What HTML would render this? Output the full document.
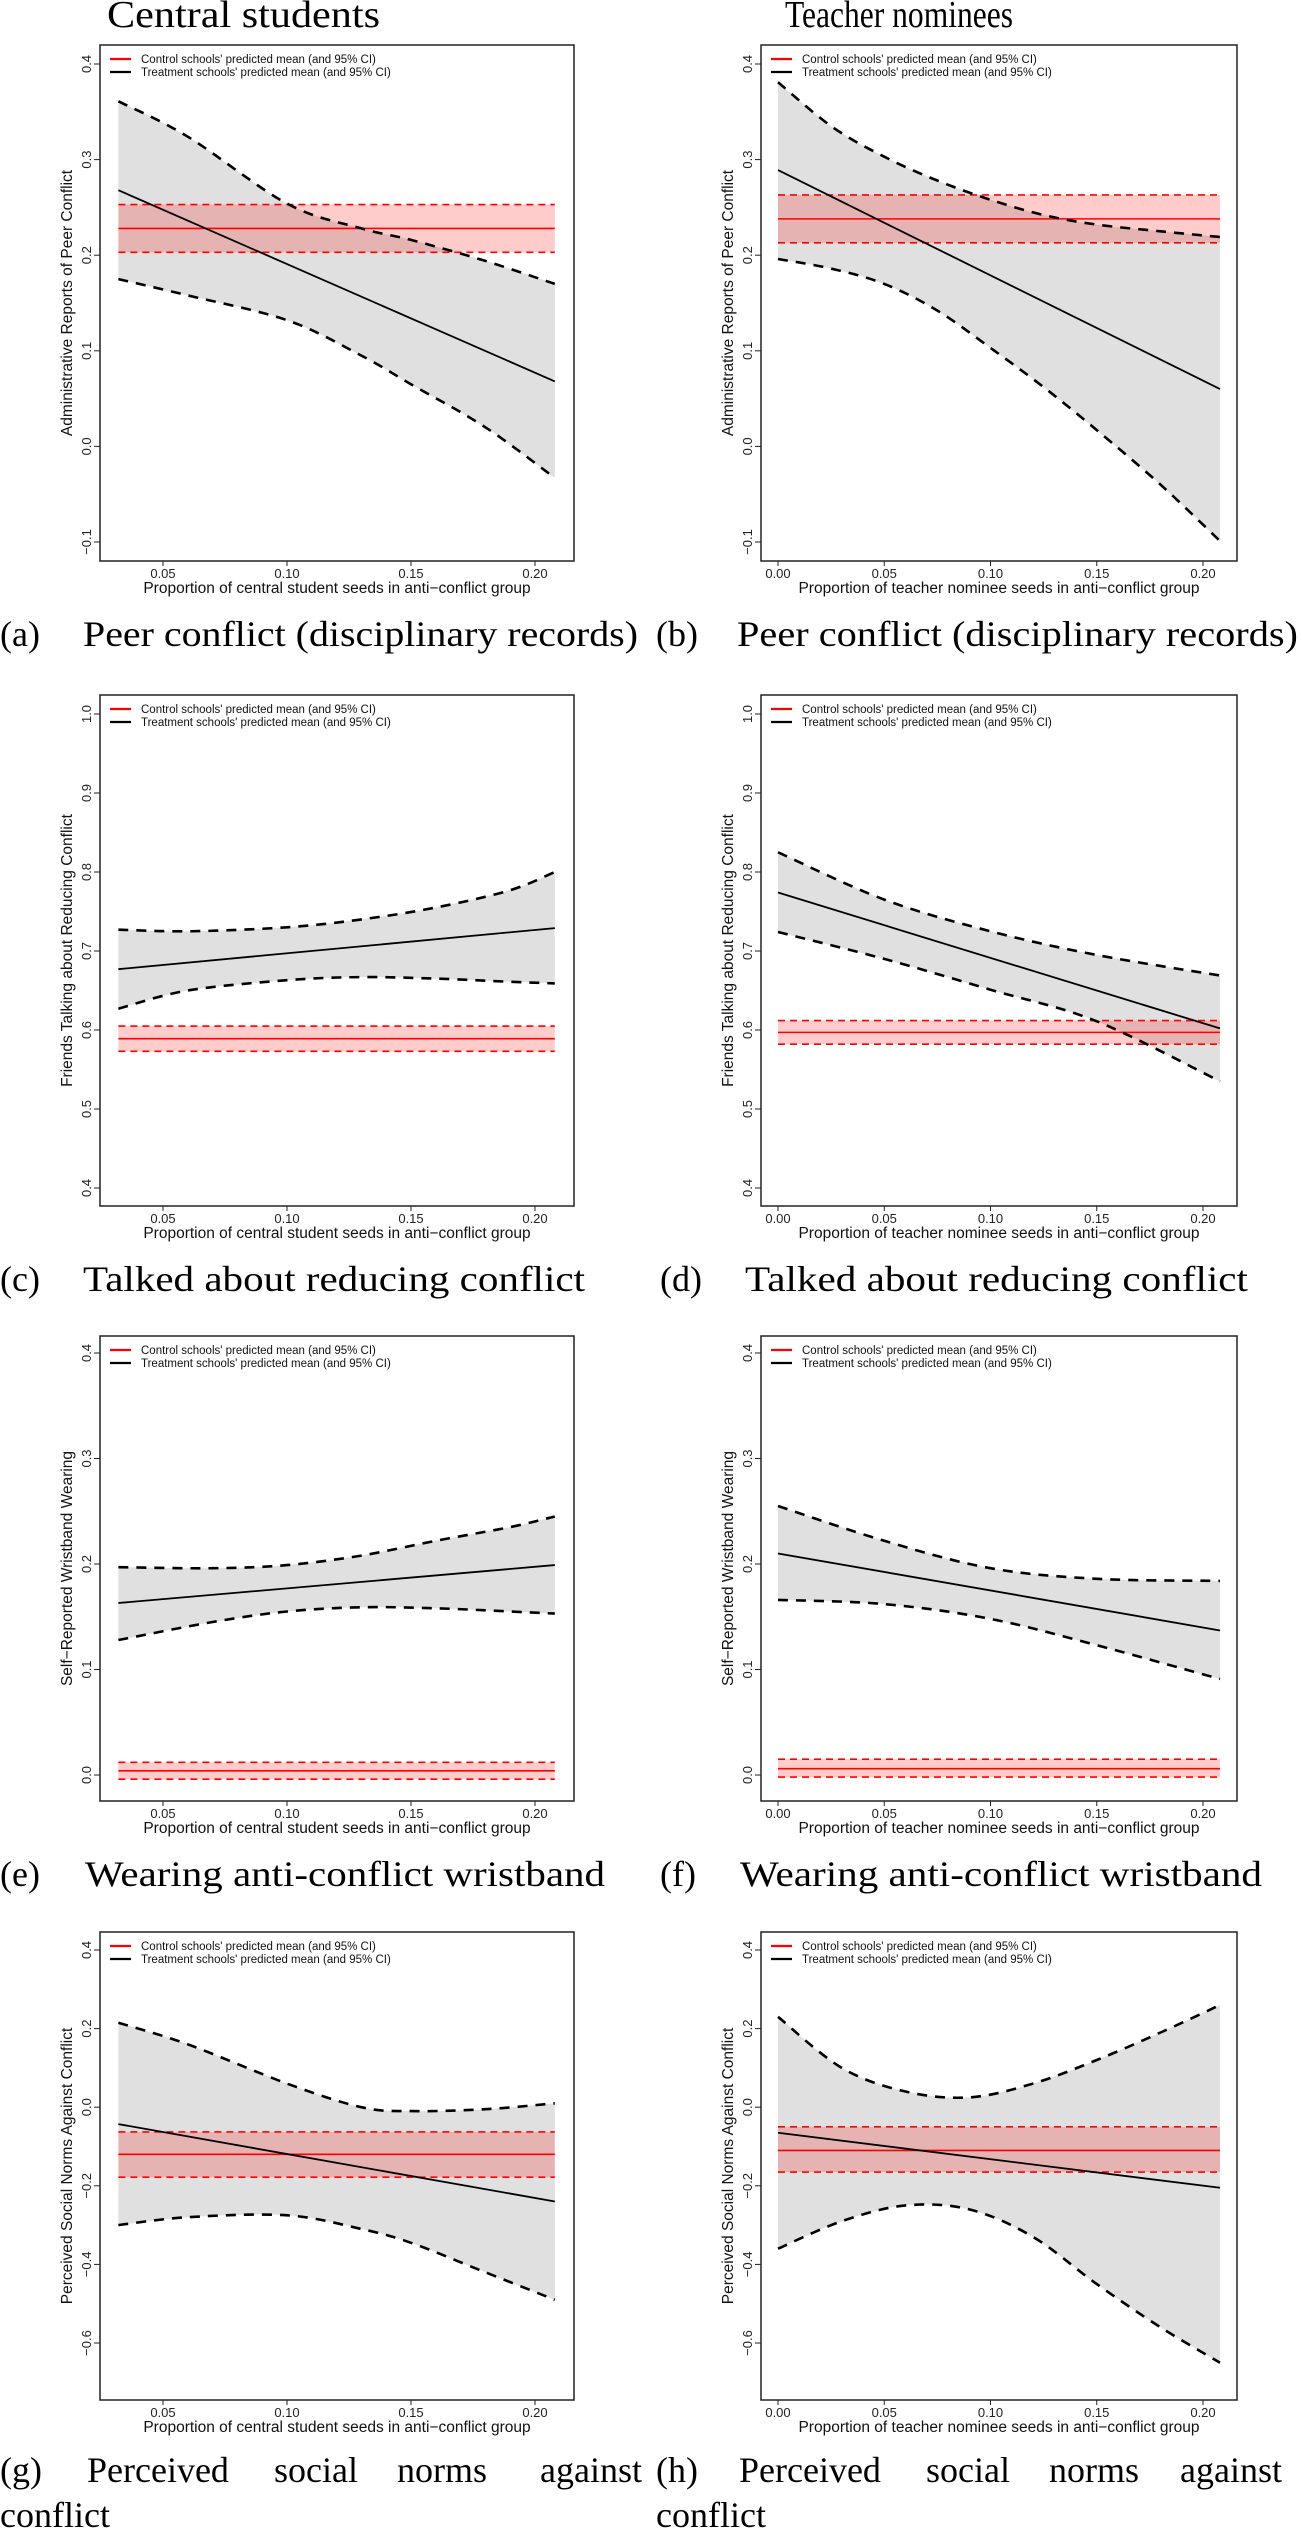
<!DOCTYPE html>
<html><head><meta charset="utf-8">
<style>
html,body{margin:0;padding:0;background:#fff;}
svg{display:block;}
text{font-family:"Liberation Sans",Arial,sans-serif;}
.serif{font-family:"Liberation Serif","DejaVu Serif",serif;}
</style></head>
<body>
<svg id="fig" width="1302" height="2529" viewBox="0 0 1302 2529" xmlns="http://www.w3.org/2000/svg">
<text class="serif" x="107" y="27" font-size="38" textLength="273" lengthAdjust="spacingAndGlyphs">Central students</text>
<text class="serif" x="785" y="27" font-size="38" textLength="228" lengthAdjust="spacingAndGlyphs">Teacher nominees</text>

<text class="serif" x="0" y="646" font-size="36">(a)</text>
<text class="serif" x="83" y="646" font-size="36" textLength="555" lengthAdjust="spacingAndGlyphs">Peer conflict (disciplinary records)</text>
<text class="serif" x="656" y="646" font-size="36">(b)</text>
<text class="serif" x="737" y="646" font-size="36" textLength="561" lengthAdjust="spacingAndGlyphs">Peer conflict (disciplinary records)</text>

<text class="serif" x="0" y="1291" font-size="36">(c)</text>
<text class="serif" x="83" y="1291" font-size="36" textLength="502" lengthAdjust="spacingAndGlyphs">Talked about reducing conflict</text>
<text class="serif" x="660" y="1291" font-size="36">(d)</text>
<text class="serif" x="745" y="1291" font-size="36" textLength="503" lengthAdjust="spacingAndGlyphs">Talked about reducing conflict</text>

<text class="serif" x="0" y="1886" font-size="36">(e)</text>
<text class="serif" x="85" y="1886" font-size="36" textLength="520" lengthAdjust="spacingAndGlyphs">Wearing anti-conflict wristband</text>
<text class="serif" x="660" y="1886" font-size="36">(f)</text>
<text class="serif" x="740" y="1886" font-size="36" textLength="522" lengthAdjust="spacingAndGlyphs">Wearing anti-conflict wristband</text>

<text class="serif" x="0" y="2482" font-size="36">(g)</text>
<text class="serif" y="2482" font-size="36"><tspan x="87">Perceived</tspan><tspan x="274">social</tspan><tspan x="397">norms</tspan><tspan x="540">against</tspan></text>
<text class="serif" x="0" y="2527" font-size="36">conflict</text>
<text class="serif" x="656" y="2482" font-size="36">(h)</text>
<text class="serif" y="2482" font-size="36"><tspan x="739">Perceived</tspan><tspan x="926">social</tspan><tspan x="1049">norms</tspan><tspan x="1180">against</tspan></text>
<text class="serif" x="656" y="2527" font-size="36">conflict</text>
</svg>
<script>
// ---- data ----
const aX = [0.032, 0.06, 0.10, 0.13, 0.15, 0.18, 0.208];
const aMean = [0.268, 0.068];
const aUpper = [0.361, 0.324, 0.254, 0.228, 0.216, 0.194, 0.170];
const aLower = [0.175, 0.158, 0.132, 0.095, 0.065, 0.020, -0.033];
const aCtrl = [0.228, 0.203, 0.253];

const bX = [0.0, 0.025, 0.05, 0.075, 0.10, 0.125, 0.15, 0.18, 0.208];
const bMean = [0.289, 0.060];
const bUpper = [0.381, 0.335, 0.303, 0.278, 0.258, 0.242, 0.232, 0.225, 0.219];
const bLower = [0.196, 0.186, 0.170, 0.142, 0.103, 0.062, 0.017, -0.040, -0.099];
const bCtrl = [0.238, 0.213, 0.263];

const cX = [0.032, 0.06, 0.10, 0.13, 0.16, 0.19, 0.208];
const cMean = [0.677, 0.729];
const cUpper = [0.727, 0.725, 0.730, 0.740, 0.755, 0.777, 0.800];
const cLower = [0.627, 0.650, 0.663, 0.667, 0.665, 0.661, 0.659];
const cCtrl = [0.589, 0.573, 0.605];

const dX = [0.0, 0.05, 0.10, 0.15, 0.208];
const dMean = [0.774, 0.602];
const dUpper = [0.825, 0.765, 0.725, 0.695, 0.669];
const dLower = [0.724, 0.690, 0.651, 0.611, 0.535];
const dCtrl = [0.597, 0.582, 0.612];

const eX = [0.032, 0.07, 0.10, 0.13, 0.16, 0.19, 0.208];
const eMean = [0.163, 0.199];
const eUpper = [0.197, 0.196, 0.199, 0.208, 0.222, 0.235, 0.245];
const eLower = [0.128, 0.145, 0.155, 0.159, 0.158, 0.155, 0.153];
const eCtrl = [0.004, -0.004, 0.012];

const fX = [0.0, 0.05, 0.10, 0.15, 0.208];
const fMean = [0.210, 0.137];
const fUpper = [0.255, 0.222, 0.196, 0.186, 0.184];
const fLower = [0.166, 0.162, 0.148, 0.123, 0.091];
const fCtrl = [0.006, -0.002, 0.015];

const gX = [0.032, 0.06, 0.10, 0.13, 0.15, 0.18, 0.208];
const gMean = [-0.043, -0.240];
const gUpper = [0.215, 0.160, 0.060, 0.000, -0.010, -0.005, 0.010];
const gLower = [-0.300, -0.280, -0.275, -0.310, -0.345, -0.420, -0.490];
const gCtrl = [-0.120, -0.178, -0.063];

const hX = [0.0, 0.03, 0.06, 0.09, 0.12, 0.15, 0.18, 0.208];
const hMean = [-0.065, -0.205];
const hUpper = [0.230, 0.100, 0.040, 0.025, 0.060, 0.120, 0.190, 0.260];
const hLower = [-0.360, -0.290, -0.250, -0.260, -0.330, -0.450, -0.560, -0.650];
const hCtrl = [-0.110, -0.165, -0.050];

const leftTicks = [0.05, 0.10, 0.15, 0.20];
const rightTicks = [0.00, 0.05, 0.10, 0.15, 0.20];
const row1Ticks = [-0.1, 0.0, 0.1, 0.2, 0.3, 0.4];
const row2Ticks = [0.4, 0.5, 0.6, 0.7, 0.8, 0.9, 1.0];
const row3Ticks = [0.0, 0.1, 0.2, 0.3, 0.4];
const row4Ticks = [-0.6, -0.4, -0.2, 0.0, 0.2, 0.4];

// ---- layout ----
const NS = "http://www.w3.org/2000/svg";
const svg = document.getElementById('fig');
function mk(tag, attrs, parent){
  const e = document.createElementNS(NS, tag);
  for (const k in attrs) e.setAttribute(k, attrs[k]);
  (parent||svg).appendChild(e);
  return e;
}
function smooth(P){
  let d = 'M' + P[0][0].toFixed(1) + ',' + P[0][1].toFixed(1);
  for (let i=0;i<P.length-1;i++){
    const p0 = P[Math.max(0,i-1)], p1 = P[i], p2 = P[i+1], p3 = P[Math.min(P.length-1,i+2)];
    const c1x = p1[0] + (p2[0]-p0[0])/6, c1y = p1[1] + (p2[1]-p0[1])/6;
    const c2x = p2[0] - (p3[0]-p1[0])/6, c2y = p2[1] - (p3[1]-p1[1])/6;
    d += ' C' + c1x.toFixed(1)+','+c1y.toFixed(1)+' '+c2x.toFixed(1)+','+c2y.toFixed(1)+' '+p2[0].toFixed(1)+','+p2[1].toFixed(1);
  }
  return d;
}
const cols = {
  L: {x0:100, x1:574, sx:v=>163+(v-0.05)*2480, ticks:leftTicks, xt:"Proportion of central student seeds in anti\u2212conflict group"},
  R: {x0:761, x1:1237, sx:v=>778+v*2125, ticks:rightTicks, xt:"Proportion of teacher nominee seeds in anti\u2212conflict group"}
};
const rows = [
  {y0:45, y1:561, ref:0.4, refY:64, k:956, ticks:row1Ticks, yt:"Administrative Reports of Peer Conflict"},
  {y0:695, y1:1206, ref:1.0, refY:714, k:790, ticks:row2Ticks, yt:"Friends Talking about Reducing Conflict"},
  {y0:1336, y1:1801, ref:0.4, refY:1353, k:1055, ticks:row3Ticks, yt:"Self\u2212Reported Wristband Wearing"},
  {y0:1932, y1:2400, ref:0.4, refY:1950, k:393, ticks:row4Ticks, yt:"Perceived Social Norms Against Conflict"}
];
const panels = [
  {id:'a', c:'L', r:0, X:aX, M:aMean, U:aUpper, Lo:aLower, C:aCtrl},
  {id:'b', c:'R', r:0, X:bX, M:bMean, U:bUpper, Lo:bLower, C:bCtrl},
  {id:'c', c:'L', r:1, X:cX, M:cMean, U:cUpper, Lo:cLower, C:cCtrl},
  {id:'d', c:'R', r:1, X:dX, M:dMean, U:dUpper, Lo:dLower, C:dCtrl},
  {id:'e', c:'L', r:2, X:eX, M:eMean, U:eUpper, Lo:eLower, C:eCtrl},
  {id:'f', c:'R', r:2, X:fX, M:fMean, U:fUpper, Lo:fLower, C:fCtrl},
  {id:'g', c:'L', r:3, X:gX, M:gMean, U:gUpper, Lo:gLower, C:gCtrl},
  {id:'h', c:'R', r:3, X:hX, M:hMean, U:hUpper, Lo:hLower, C:hCtrl}
];

panels.forEach(p => {
  const col = cols[p.c], row = rows[p.r];
  const sx = col.sx;
  const sy = v => row.refY + (row.ref - v) * row.k;
  const g = mk('g', {});
  
  

  const X = p.X, xs0 = X[0], xs1 = X[X.length-1];
  const UP = X.map((x,i)=>[sx(x), sy(p.U[i])]);
  const LP = X.map((x,i)=>[sx(x), sy(p.Lo[i])]);
  const LPr = LP.slice().reverse();
  const bandD = smooth(UP) + ' L' + LPr[0][0].toFixed(1)+','+LPr[0][1].toFixed(1) + ' ' + smooth(LPr).replace(/^M[^ C]+/, '') + ' Z';
  const band = mk('path', {d:bandD, fill:'#e0e0e0', stroke:'none'}, g);
  
  

  const cLo = Math.min(p.C[1], p.C[2]), cHi = Math.max(p.C[1], p.C[2]);
  const rb = mk('rect', {x:sx(xs0), y:sy(cHi), width:sx(xs1)-sx(xs0), height:sy(cLo)-sy(cHi), fill:'rgba(255,0,0,0.2)'}, g);
  
  
  [p.C[1], p.C[2]].forEach(v => {
    const l = mk('line', {x1:sx(xs0), x2:sx(xs1), y1:sy(v), y2:sy(v), stroke:'#ff0000', 'stroke-width':1.6, 'stroke-dasharray':'7,5'}, g);
    
    
  });
  const cm = mk('line', {x1:sx(xs0), x2:sx(xs1), y1:sy(p.C[0]), y2:sy(p.C[0]), stroke:'#ff0000', 'stroke-width':1.6}, g);
  
  

  [UP, LP].forEach((P, j) => {
    const pl = mk('path', {d:smooth(P), fill:'none', stroke:'#000', 'stroke-width':2.6, 'stroke-dasharray':'10,8'}, g);
    
    
  });
  const tm = mk('line', {x1:sx(xs0), x2:sx(xs1), y1:sy(p.M[0]), y2:sy(p.M[1]), stroke:'#000', 'stroke-width':1.8}, g);
  
  

  const box = mk('rect', {x:col.x0, y:row.y0, width:col.x1-col.x0, height:row.y1-row.y0, fill:'none', stroke:'#222', 'stroke-width':1.5}, g);
  
  

  row.ticks.forEach(v => {
    const y = sy(v);
    const t = mk('line', {x1:col.x0-6, x2:col.x0, y1:y, y2:y, stroke:'#222', 'stroke-width':1}, g);
    
    
    const lab = mk('text', {x:0, y:0, 'font-size':13, 'text-anchor':'middle', fill:'#222', transform:'translate('+(col.x0-9)+','+y+') rotate(-90)'}, g);
    lab.textContent = (v<0?'\u2212':'') + Math.abs(v).toFixed(1);
    
    
  });
  const yt = mk('text', {x:0, y:0, 'font-size':15.5, 'text-anchor':'middle', fill:'#111', transform:'translate('+(col.x0-28)+','+((row.y0+row.y1)/2)+') rotate(-90)'}, g);
  yt.textContent = row.yt;
  
  

  col.ticks.forEach(v => {
    const x = sx(v);
    const t = mk('line', {x1:x, x2:x, y1:row.y1, y2:row.y1+5, stroke:'#222', 'stroke-width':1}, g);
    
    
    const lab = mk('text', {x:x, y:row.y1+17, 'font-size':13, 'text-anchor':'middle', fill:'#222'}, g);
    lab.textContent = v.toFixed(2);
    
    
  });
  const xt = mk('text', {x:(col.x0+col.x1)/2, y:row.y1+32, 'font-size':15.5, 'text-anchor':'middle', fill:'#111'}, g);
  xt.textContent = col.xt;
  
  

  const lg = mk('g', {}, g);
  
  
  [['#ff0000',"Control schools' predicted mean (and 95% CI)"],['#000',"Treatment schools' predicted mean (and 95% CI)"]].forEach((e,i) => {
    const y = row.y0 + 14 + i*13;
    const ln = mk('line', {x1:col.x0+10, x2:col.x0+31, y1:y, y2:y, stroke:e[0], 'stroke-width':2.2}, lg);
    
    
    const tx = mk('text', {x:col.x0+41, y:y+4, 'font-size':11.5, fill:'#111'}, lg);
    tx.textContent = e[1];
    
    
  });
});
</script>
</body></html>
